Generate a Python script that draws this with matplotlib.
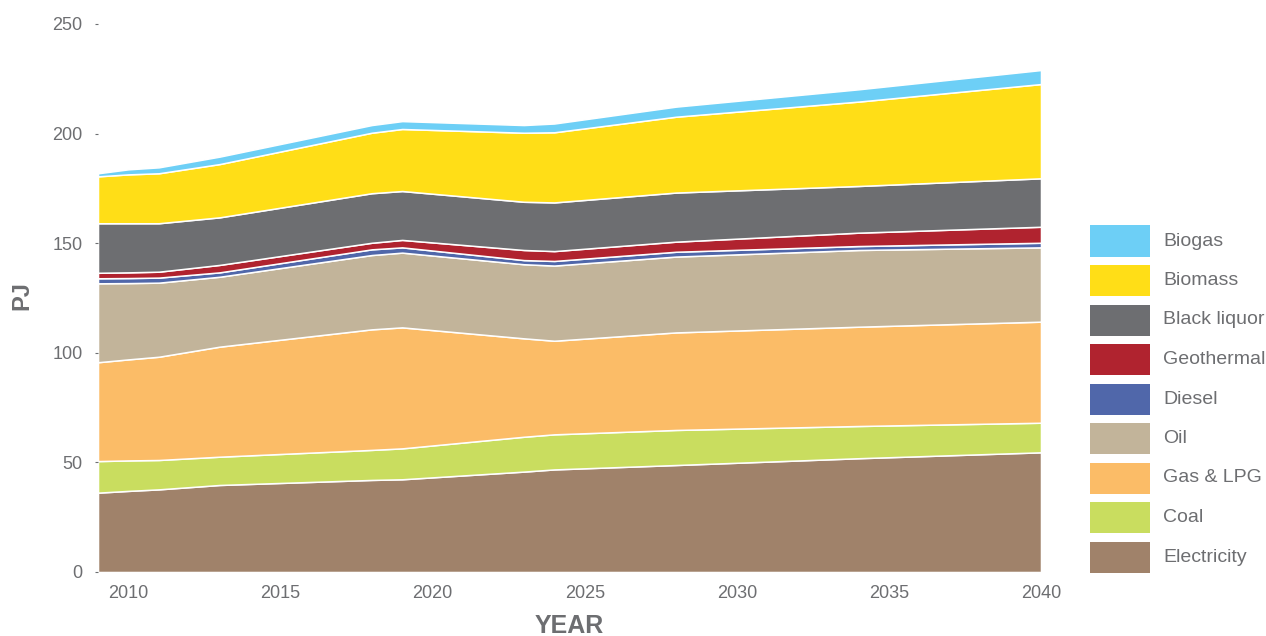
import numpy as np
import matplotlib.pyplot as plt
from matplotlib.patches import Rectangle

# years where the curves change direction
years = [2009, 2010, 2011, 2013, 2018, 2019, 2023, 2024, 2028, 2034, 2040]

# energy use by fuel, PJ
electricity = [36.2, 37.0, 37.7, 39.7, 42.0, 42.3, 45.8, 46.8, 48.8, 51.9, 54.6]
coal = [14.4, 13.9, 13.4, 12.9, 13.7, 14.1, 15.9, 16.0, 16.0, 14.7, 13.5]
gas_lpg = [45.1, 46.1, 47.1, 50.2, 55.0, 55.2, 44.9, 42.7, 44.5, 45.3, 46.1]
oil = [36.0, 34.8, 33.8, 31.9, 33.9, 34.1, 33.8, 34.3, 34.6, 35.0, 33.9]
diesel = [2.3, 2.3, 2.3, 2.0, 2.6, 2.4, 1.9, 2.1, 2.2, 1.8, 2.1]
geothermal = [2.5, 2.6, 2.7, 3.4, 3.0, 3.4, 4.6, 4.5, 4.6, 6.1, 7.3]
black_liquor = [22.6, 22.4, 22.1, 21.7, 22.6, 22.3, 22.0, 22.2, 22.4, 21.3, 22.1]
biomass = [21.4, 22.3, 22.8, 24.3, 27.6, 28.3, 31.5, 32.0, 34.6, 38.5, 43.0]
biogas = [1.4, 2.3, 2.7, 3.4, 3.5, 3.6, 3.5, 4.0, 4.6, 5.6, 6.4]

labels = ['Electricity', 'Coal', 'Gas & LPG', 'Oil', 'Diesel',
          'Geothermal', 'Black liquor', 'Biomass', 'Biogas']
colors = ['#a0826a', '#c9dd5f', '#fbbc67', '#c2b49a', '#5067aa',
          '#b0232f', '#6d6e71', '#ffde17', '#6dcff6']

grey = '#6d6e71'
plt.rcParams['font.family'] = ['Liberation Sans', 'DejaVu Sans']

W, H = 1266, 636
fig = plt.figure(figsize=(W / 100, H / 100), dpi=100)
ax = fig.add_axes([98 / W, 1 - 572 / H, (1041 - 98) / W, (572 - 24) / H])

series = [electricity, coal, gas_lpg, oil, diesel, geothermal,
          black_liquor, biomass, biogas]
ax.stackplot(years, *series, colors=colors, edgecolor='white', linewidth=1.1)

ax.set_xlim(2009, 2040)
ax.set_ylim(0, 250)
ax.set_xticks(np.arange(2010, 2041, 5))
ax.set_yticks(np.arange(0, 251, 50))
for s in ax.spines.values():
    s.set_visible(False)
ax.tick_params(axis='x', length=0, pad=9, labelsize=13, labelcolor=grey)
ax.tick_params(axis='y', length=2, color=grey, pad=9, labelsize=13,
               labelcolor=grey)

fig.text(22 / W, 1 - 296 / H, 'PJ', rotation=90, ha='center', va='center',
         fontsize=17, fontweight='bold', color=grey)
fig.text(569 / W, 1 - 626 / H, 'YEAR', ha='center', va='center',
         fontsize=18, fontweight='bold', color=grey)

# legend drawn by hand: top entry is the top layer of the stack
for i, (lab, col) in enumerate(zip(labels[::-1], colors[::-1])):
    yc = 241 + i * 39.5
    fig.patches.append(Rectangle((1090 / W, 1 - (yc + 15.5) / H), 60 / W,
                                 31 / H, transform=fig.transFigure,
                                 facecolor=col, edgecolor='none'))
    fig.text(1163 / W, 1 - yc / H, lab, ha='left', va='center',
             fontsize=14, color=grey)

fig.savefig('out.png', dpi=100)
